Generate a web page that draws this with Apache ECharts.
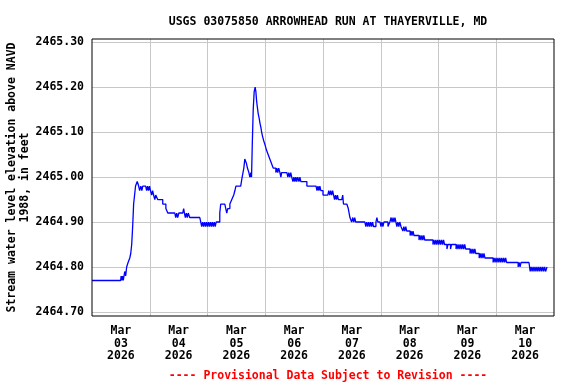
<!DOCTYPE html>
<html>
<head>
<meta charset="utf-8">
<script src="https://cdn.jsdelivr.net/npm/echarts@6/dist/echarts.min.js"></script>
<style>html,body{margin:0;padding:0;background:#fff}#c{width:576px;height:384px}</style>
</head>
<body>
<div id="c"></div>
<script>
// Hours since 2026-03-03 00:00, water level (ft, NAVD 1988)
const readings = [
[0,2464.77],[11.9,2464.77],
[12.1,2464.78],[12.4,2464.77],[12.7,2464.78],[13.0,2464.77],[13.3,2464.78],[13.6,2464.79],[14.0,2464.78],[14.4,2464.80],[15.0,2464.81],[15.7,2464.82],[16.1,2464.83],[16.5,2464.85],[16.9,2464.89],[17.3,2464.94],[17.7,2464.96],[18.1,2464.98],[18.8,2464.99],[19.4,2464.98],[19.8,2464.97],[20.3,2464.98],[20.7,2464.97],[21.1,2464.98],[22.3,2464.98],[22.7,2464.97],[23.1,2464.98],[23.5,2464.97],[23.9,2464.98],[24.3,2464.97],[24.8,2464.96],[25.2,2464.97],[25.6,2464.96],[26.1,2464.95],[26.5,2464.96],[27.3,2464.95],[29.4,2464.94],[30.7,2464.93],[31.5,2464.92],[34.4,2464.92],[34.8,2464.91],[35.2,2464.92],[35.6,2464.91],[36.1,2464.92],[37.7,2464.92],[38.1,2464.93],[38.4,2464.92],[38.8,2464.91],[39.2,2464.92],[39.6,2464.91],[40.0,2464.92],[40.6,2464.91],[44.8,2464.91],
[45.2,2464.90],[45.6,2464.89],[46.0,2464.90],[46.4,2464.89],[46.8,2464.90],[47.2,2464.89],[47.6,2464.90],[48.0,2464.89],[48.4,2464.90],[48.8,2464.89],[49.2,2464.90],[49.6,2464.89],[50.0,2464.90],[50.4,2464.89],[50.8,2464.90],[51.2,2464.89],[51.6,2464.90],[52.3,2464.90],[53.1,2464.92],[53.5,2464.94],[55.2,2464.94],[55.6,2464.93],[56.0,2464.92],[56.4,2464.93],[57.3,2464.94],[58.1,2464.95],[58.9,2464.96],[59.4,2464.97],[59.8,2464.98],[61.8,2464.98],[62.4,2465.00],[63.1,2465.02],[63.5,2465.04],[64.2,2465.03],[64.6,2465.02],[65.2,2465.01],[65.6,2465.00],[66.0,2465.01],[66.3,2465.00],
[66.6,2465.07],[67.0,2465.15],[67.4,2465.19],[67.8,2465.20],[68.1,2465.19],[68.4,2465.17],[68.6,2465.16],[69.1,2465.14],[69.5,2465.13],[69.8,2465.12],[70.2,2465.11],[70.5,2465.10],[70.9,2465.09],[71.4,2465.08],[72.0,2465.07],[72.5,2465.06],[73.2,2465.05],[73.9,2465.04],[74.6,2465.03],[75.3,2465.02],[76.0,2465.02],[76.4,2465.01],[76.8,2465.02],[77.2,2465.01],[77.6,2465.02],[78.1,2465.01],[78.5,2465.00],[78.8,2465.01],[81.0,2465.01],[81.4,2465.00],[81.8,2465.01],[82.2,2465.00],[82.6,2465.01],[83.0,2465.00],[83.5,2464.99],[83.9,2465.00],[84.3,2464.99],[84.7,2465.00],[85.1,2464.99],[85.5,2465.00],[86.0,2464.99],[86.4,2465.00],[86.8,2464.99],[89.3,2464.98],[93.1,2464.98],[93.5,2464.97],[93.9,2464.98],[94.3,2464.97],[94.7,2464.98],[95.1,2464.97],
[96.0,2464.96],[98.0,2464.96],[98.4,2464.97],[98.8,2464.96],[99.2,2464.97],[99.6,2464.96],[100.0,2464.97],[100.4,2464.96],[100.8,2464.95],[101.2,2464.96],[101.6,2464.95],[102.0,2464.96],[102.4,2464.95],[103.8,2464.95],[104.2,2464.96],[104.5,2464.94],[105.9,2464.94],[106.5,2464.93],[107.2,2464.91],[107.9,2464.90],[108.4,2464.91],[108.8,2464.90],[109.2,2464.91],[109.6,2464.90],[110.5,2464.90],[113.4,2464.90],[113.8,2464.89],[114.2,2464.90],[114.6,2464.89],[115.0,2464.90],[115.4,2464.89],[115.8,2464.90],[116.2,2464.89],[116.6,2464.90],[117.0,2464.89],[118.0,2464.90],[118.4,2464.91],[118.8,2464.90],[119.7,2464.90],[120.1,2464.89],[120.5,2464.90],[120.9,2464.89],[121.3,2464.90],[123.0,2464.89],[123.8,2464.90],
[124.3,2464.91],[124.7,2464.90],[125.1,2464.91],[125.5,2464.90],[125.9,2464.91],[126.3,2464.90],[126.7,2464.89],[127.1,2464.90],[127.5,2464.89],[127.9,2464.90],[128.4,2464.89],[129.2,2464.88],[129.6,2464.89],[130.0,2464.88],[130.4,2464.89],[130.8,2464.88],[131.3,2464.88],[132.2,2464.87],[132.6,2464.88],[133.0,2464.87],[133.4,2464.88],[133.8,2464.87],[135.9,2464.86],[136.3,2464.87],[136.7,2464.86],[137.1,2464.87],[137.5,2464.86],[137.9,2464.87],[138.3,2464.86],[141.7,2464.85],[142.1,2464.86],[142.5,2464.85],[142.9,2464.86],[143.3,2464.85],[143.7,2464.86],[144.1,2464.85],[144.5,2464.86],[144.9,2464.85],[145.3,2464.86],[145.7,2464.85],[146.1,2464.86],[146.5,2464.85],[147.5,2464.84],[147.9,2464.85],[149.0,2464.84],[149.4,2464.85],
[151.3,2464.84],[151.7,2464.85],[152.1,2464.84],[152.5,2464.85],[152.9,2464.84],[153.3,2464.85],[153.7,2464.84],[154.1,2464.85],[154.5,2464.84],[154.9,2464.85],[155.3,2464.84],[155.9,2464.84],[157.1,2464.83],[157.5,2464.84],[157.9,2464.83],[158.3,2464.84],[158.7,2464.83],[159.1,2464.84],[159.5,2464.83],[160.9,2464.82],[161.3,2464.83],[161.7,2464.82],[162.1,2464.83],[162.5,2464.82],[162.9,2464.83],[163.3,2464.82],[166.7,2464.81],[167.1,2464.82],[167.5,2464.81],[167.9,2464.82],[168.3,2464.81],[168.7,2464.82],[169.1,2464.81],[169.5,2464.82],[169.9,2464.81],[170.3,2464.82],[170.7,2464.81],[171.1,2464.82],[171.5,2464.81],[171.9,2464.82],[172.3,2464.81],[172.9,2464.81],[177.1,2464.80],[177.5,2464.81],[177.9,2464.80],[178.3,2464.81],[178.8,2464.81],[181.6,2464.81],
[182.1,2464.79],[182.5,2464.80],[182.9,2464.79],[183.3,2464.80],[183.7,2464.79],[184.1,2464.80],[184.5,2464.79],[184.9,2464.80],[185.3,2464.79],[185.7,2464.80],[186.1,2464.79],[186.5,2464.80],[186.9,2464.79],[187.3,2464.80],[187.7,2464.79],[188.1,2464.80],[188.5,2464.79],[189.1,2464.80]
];
const dayLabels = ['Mar\n03\n2026','Mar\n04\n2026','Mar\n05\n2026','Mar\n06\n2026','Mar\n07\n2026','Mar\n08\n2026','Mar\n09\n2026','Mar\n10\n2026'];
const titleText = 'USGS 03075850 ARROWHEAD RUN AT THAYERVILLE, MD';
const footerText = '---- Provisional Data Subject to Revision ----';
const yName = 'Stream water level elevation above NAVD\n1988, in feet';

const FONT = '"DejaVu Sans Mono", monospace';
const chart = echarts.init(document.getElementById('c'), null, {renderer: 'canvas'});
chart.setOption({
  animation: false,
  backgroundColor: '#fff',
  title: [
    {text: titleText, left: 323, top: 11, textAlign: 'center',
     textStyle: {fontFamily: FONT, fontSize: 11.5, fontWeight: 'bold', color: '#000'}},
    {text: footerText, left: 323, top: 365, textAlign: 'center',
     textStyle: {fontFamily: FONT, fontSize: 11.5, fontWeight: 'bold', color: '#ff0000'}}
  ],
  grid: {left: 92, right: 22, top: 39, bottom: 68, outerBoundsMode: 'none', containLabel: false,
    show: true, borderColor: '#000', borderWidth: 1, backgroundColor: 'transparent', z: 5},
  xAxis: [
    {type: 'value', min: 0, max: 192, interval: 24,
     axisLine: {show: false}, axisTick: {show: false}, axisLabel: {show: false},
     splitLine: {show: true, showMinLine: false, showMaxLine: false, lineStyle: {color: '#c8c8c8', width: 1}}},
    {type: 'category', data: dayLabels, boundaryGap: true, position: 'bottom',
     axisLine: {show: false}, axisTick: {show: false}, splitLine: {show: false},
     axisLabel: {interval: 0, margin: 9, fontFamily: FONT, fontSize: 11.5, fontWeight: 'bold', color: '#000', lineHeight: 12.5}}
  ],
  yAxis: {
    type: 'value', min: 2464.691, max: 2465.307, splitNumber: 6,
    name: yName, nameLocation: 'middle', nameRotate: 90, nameGap: 73, nameMoveOverlap: false,
    nameTextStyle: {fontFamily: FONT, fontSize: 11.5, fontWeight: 'bold', color: '#000', lineHeight: 13, align: 'center', verticalAlign: 'middle'},
    axisLine: {show: false}, axisTick: {show: false},
    axisLabel: {showMinLabel: false, showMaxLabel: false, margin: 8, fontFamily: FONT, fontSize: 11.5, fontWeight: 'bold', color: '#000',
      formatter: v => v.toFixed(2)},
    splitLine: {show: true, showMinLine: false, showMaxLine: false, lineStyle: {color: '#c8c8c8', width: 1}}
  },
  series: [{
    type: 'line', step: 'end', data: readings, xAxisIndex: 0, yAxisIndex: 0,
    showSymbol: false, symbol: 'none',
    lineStyle: {color: '#0000ff', width: 1.3}
  }]
});
</script>
</body>
</html>
